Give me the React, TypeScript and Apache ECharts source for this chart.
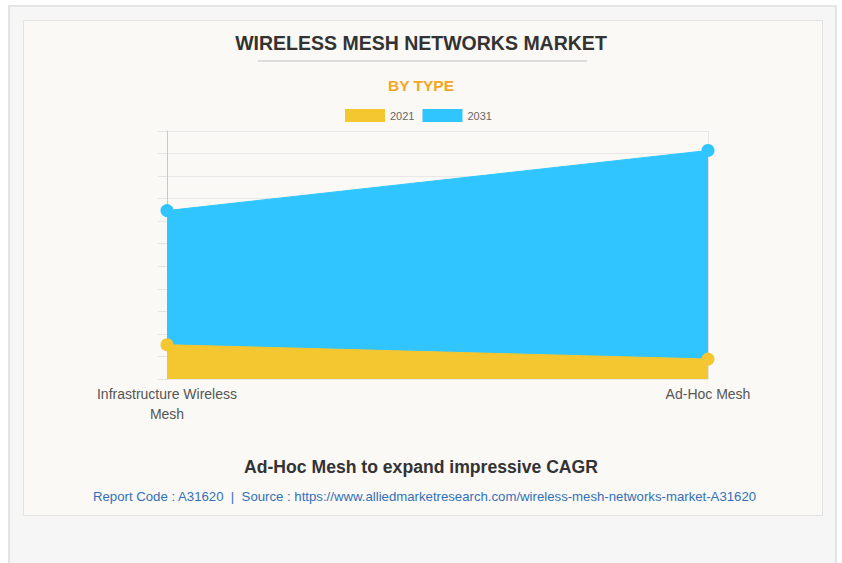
import React, { useEffect, useRef } from "react";
import * as echarts from "echarts";

const categories = ["Infrastructure Wireless\nMesh", "Ad-Hoc Mesh"];
const values2021 = [760, 443];
const values2031 = [3735, 5068];
const seriesNames = ["2021", "2031"];
const yMin = 0;
const yMax = 5500;
const yInterval = 500;

const titleText = "WIRELESS MESH NETWORKS MARKET";
const subtitleText = "BY TYPE";
const footerTitle = "Ad-Hoc Mesh to expand impressive CAGR";
const footerSource =
  "Report Code : A31620  |  Source : https://www.alliedmarketresearch.com/wireless-mesh-networks-market-A31620";

const YELLOW = "#F4C62F";
const BLUE = "#30C5FF";
const FONT = "Arial, 'Liberation Sans', Helvetica, sans-serif";

export default function App() {
  const ref = useRef<HTMLDivElement>(null);
  useEffect(() => {
    if (!ref.current) return;
    const chart = echarts.init(ref.current, null, { renderer: "svg" });
    chart.setOption({
      animation: false,
      backgroundColor: "#ffffff",
      graphic: [
        {
          type: "rect",
          z: -10,
          silent: true,
          shape: { x: 9, y: 6, width: 827, height: 580 },
          style: { fill: "#f6f6f6", stroke: "#e4e4e4", lineWidth: 2 },
        },
        {
          type: "rect",
          z: -9,
          silent: true,
          shape: { x: 23.5, y: 20.5, width: 799, height: 495 },
          style: { fill: "#faf9f5", stroke: "#e2e2e2", lineWidth: 1 },
        },
        {
          type: "line",
          z: -8,
          silent: true,
          shape: { x1: 258, y1: 61, x2: 587, y2: 61 },
          style: { stroke: "#dcdcdc", lineWidth: 2 },
        },
      ],
      title: [
        {
          text: titleText,
          left: "center",
          top: 28,
          textStyle: { fontFamily: FONT, fontSize: 19.5, fontWeight: "bold", color: "#333333" },
        },
        {
          text: subtitleText,
          left: "center",
          top: 72,
          textStyle: { fontFamily: FONT, fontSize: 15.5, fontWeight: "bold", color: "#F5A623" },
        },
        {
          text: footerTitle,
          left: "center",
          top: 453,
          textStyle: { fontFamily: FONT, fontSize: 17.6, fontWeight: "bold", color: "#333333" },
        },
        {
          text: footerSource,
          left: 88,
          top: 485,
          textStyle: { fontFamily: FONT, fontSize: 13.2, fontWeight: "normal", color: "#3370b8" },
        },
      ],
      legend: {
        data: seriesNames,
        top: 104,
        left: 340,
        itemWidth: 40,
        itemHeight: 13,
        itemGap: 8,
        icon: "rect",
        textStyle: { fontFamily: FONT, fontSize: 11, color: "#666666", padding: [0, 0, 0, 0] },
      },
      grid: { left: 167, right: 134, top: 131, bottom: 184, containLabel: false },
      xAxis: {
        type: "category",
        data: categories,
        boundaryGap: false,
        axisLine: { show: false },
        axisTick: { show: false },
        splitLine: { show: true, lineStyle: { color: "#e4e4e4", width: 1 } },
        axisLabel: {
          fontFamily: FONT,
          fontSize: 14,
          color: "#555555",
          lineHeight: 20,
          margin: 5,
          interval: 0,
        },
      },
      yAxis: {
        type: "value",
        min: yMin,
        max: yMax,
        interval: yInterval,
        axisLabel: { show: false },
        axisLine: { show: true, lineStyle: { color: "#c8c8c8", width: 1 } },
        axisTick: { show: true, length: 9, lineStyle: { color: "#e4e4e4" } },
        splitLine: { show: true, lineStyle: { color: "#e8e8e8", width: 1 } },
      },
      series: [
        {
          name: seriesNames[1],
          type: "line",
          data: values2031,
          z: 2,
          symbol: "circle",
          symbolSize: 13,
          showSymbol: true,
          itemStyle: { color: BLUE },
          lineStyle: { color: BLUE, width: 1 },
          areaStyle: { color: BLUE, opacity: 1 },
        },
        {
          name: seriesNames[0],
          type: "line",
          data: values2021,
          z: 3,
          symbol: "circle",
          symbolSize: 13,
          showSymbol: true,
          itemStyle: { color: YELLOW },
          lineStyle: { color: YELLOW, width: 1 },
          areaStyle: { color: YELLOW, opacity: 1 },
        },
      ],
    });
    return () => chart.dispose();
  }, []);
  return (
    <div
      ref={ref}
      style={{ position: "fixed", left: 0, top: 0, width: 842, height: 563 }}
    />
  );
}
